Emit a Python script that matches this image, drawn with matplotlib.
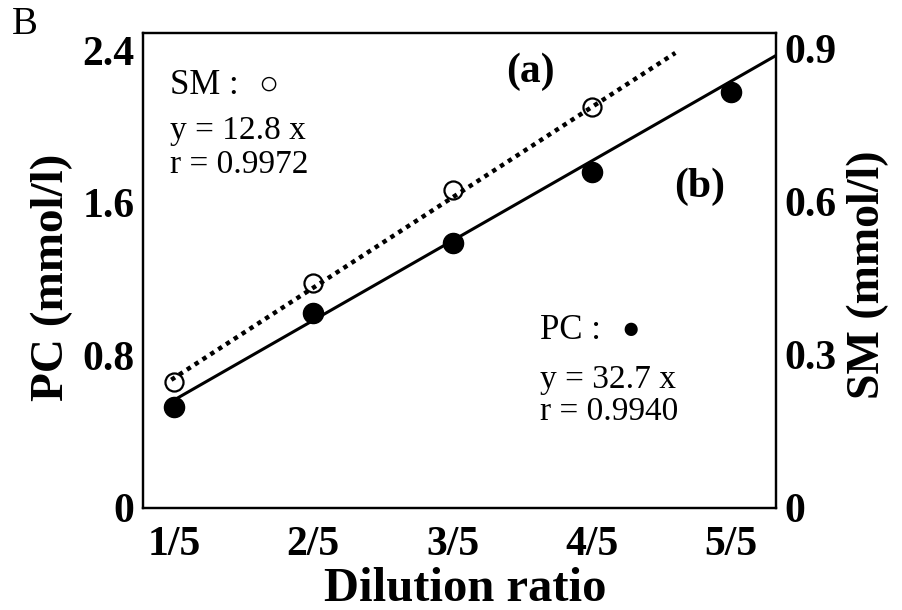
import numpy as np
import matplotlib
matplotlib.use("Agg")
from matplotlib import pyplot as plt

plt.rcParams['font.family'] = ['Liberation Serif', 'DejaVu Sans']

# data
dilution = ["1/5", "2/5", "3/5", "4/5", "5/5"]
x_pos = [1, 2, 3, 4, 5]
pc_values = [0.53, 1.02, 1.39, 1.76, 2.18]       # mmol/l, left axis
sm_values = [0.247, 0.440, 0.623, 0.785]         # mmol/l, right axis (no 5/5)
pc_fit_x = [1.0, 5.33]
pc_fit_y = [0.566, 2.375]
sm_fit_x = [0.98, 4.6]
sm_fit_y = [0.251, 0.891]

fig = plt.figure(figsize=(9.02, 6.10), dpi=100)
ax = fig.add_axes([143/902, 1 - 508/610, (776-143)/902, (508-33)/610])
ax2 = ax.twinx()

# PC (b) solid
ax.plot(pc_fit_x, pc_fit_y, color='black', linewidth=2.2, zorder=2)
ax.plot(x_pos, pc_values, 'o', color='black', markersize=14.5, zorder=3)

# SM (a) dotted
ax2.plot(sm_fit_x, sm_fit_y, color='black', linewidth=3.2,
         linestyle=(0, (1, 1.1)), dash_capstyle='butt', zorder=2)
ax2.plot(x_pos[:4], sm_values, 'o', markerfacecolor='none', markeredgecolor='black',
         markeredgewidth=1.6, markersize=13, zorder=3)

ax.set_xlim(0.777, 5.323)
ax.set_ylim(0, 2.49)
ax2.set_ylim(0, 0.93)

ax.set_xticks(x_pos)
ax.set_xticklabels(dilution)
ax.set_yticks([0, 0.8, 1.6, 2.4])
ax.set_yticklabels(["0", "0.8", "1.6", "2.4"])
ax2.set_yticks([0, 0.3, 0.6, 0.9])
ax2.set_yticklabels(["0", "0.3", "0.6", "0.9"])

for a in (ax, ax2):
    for s in a.spines.values():
        s.set_linewidth(1.6)
ax.tick_params(axis='x', length=0, pad=13, labelsize=30)
ax.tick_params(axis='y', length=0, pad=6, labelsize=30)
ax2.tick_params(axis='y', length=0, pad=6, labelsize=30)
for lab in ax.get_xticklabels() + ax.get_yticklabels() + ax2.get_yticklabels():
    lab.set_fontweight('bold')

fig.text(52/902, 1 - 277/610, "PC (mmol/l)", rotation=90, ha='center', va='center',
         fontsize=34, fontweight='bold')
fig.text(868/902, 1 - 275/610, "SM (mmol/l)", rotation=90, ha='center', va='center',
         fontsize=33, fontweight='bold')
fig.text(465/902, 1 - 589/610, "Dilution ratio", ha='center', va='center',
         fontsize=35, fontweight='bold')
fig.text(12/902, 1 - 25/610, "B", ha='left', va='center', fontsize=28)

# annotations
ax.text(0.97, 2.217, "SM :", ha='left', va='center', fontsize=25)
ax.text(1.68, 2.217, "\u25cb", ha='center', va='center', fontsize=24)
ax.text(0.97, 1.98, "y = 12.8 x", ha='left', va='center', fontsize=24)
ax.text(0.97, 1.80, "r = 0.9972", ha='left', va='center', fontsize=24)
ax.text(3.556, 2.286, "(a)", ha='center', va='center', fontsize=30, fontweight='bold')
ax.text(4.777, 1.683, "(b)", ha='center', va='center', fontsize=30, fontweight='bold')
ax.text(3.628, 0.933, "PC :", ha='left', va='center', fontsize=25)
ax.text(4.28, 0.933, "\u25cf", ha='center', va='center', fontsize=22)
ax.text(3.628, 0.671, "y = 32.7 x", ha='left', va='center', fontsize=24)
ax.text(3.628, 0.503, "r = 0.9940", ha='left', va='center', fontsize=24)

fig.savefig("out.png", dpi=100)
